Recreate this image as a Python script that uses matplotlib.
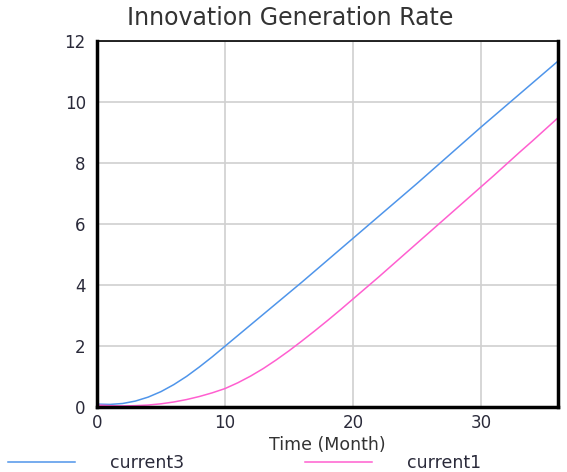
import numpy as np
import matplotlib
matplotlib.use("Agg")
import matplotlib.pyplot as plt

# monthly values
months = list(range(0, 37))
current3 = [0.09, 0.08, 0.11, 0.19, 0.32, 0.50, 0.73, 1.00, 1.31, 1.64,
            1.99, 2.34, 2.69, 3.04, 3.39, 3.74, 4.09, 4.45, 4.81, 5.17,
            5.53, 5.89, 6.25, 6.61, 6.97, 7.33, 7.70, 8.07, 8.44, 8.81,
            9.18, 9.54, 9.90, 10.26, 10.62, 10.98, 11.34]
current1 = [0.06, 0.04, 0.03, 0.04, 0.06, 0.10, 0.16, 0.24, 0.34, 0.46,
            0.60, 0.79, 1.01, 1.26, 1.54, 1.84, 2.16, 2.49, 2.83, 3.18,
            3.54, 3.90, 4.26, 4.63, 5.00, 5.37, 5.74, 6.11, 6.48, 6.85,
            7.22, 7.59, 7.97, 8.35, 8.72, 9.10, 9.48]
xticks = [0, 10, 20, 30]
yticks = [0, 2, 4, 6, 8, 10, 12]

fig = plt.figure(figsize=(5.67, 4.72), dpi=100)
ax = fig.add_axes([0.171, 0.138, 0.813, 0.775])

ax.plot(months, current3, color="#4f95ea", linewidth=1.1, label="current3")
ax.plot(months, current1, color="#ff5fd0", linewidth=1.1, label="current1")

ax.set_xlim(0, 36)
ax.set_ylim(0, 12)
ax.set_xticks(xticks)
ax.set_yticks(yticks)
ax.grid(True, color="#d0d0d0", linewidth=1.2)
ax.set_axisbelow(True)
ax.tick_params(length=0, labelsize=12, labelcolor="#2a2a3a")
ax.tick_params(axis="x", pad=5)
ax.tick_params(axis="y", pad=8)

for side in ["left", "bottom", "right"]:
    ax.spines[side].set_linewidth(2.5)
    ax.spines[side].set_color("black")
ax.spines["top"].set_linewidth(1.2)

fig.text(0.511, 0.962, "Innovation Generation Rate", fontsize=17,
         color="#333333", ha="center", va="center")
ax.set_xlabel("Time (Month)", fontsize=12.5, color="#333333", labelpad=3)

fig.legend(loc="lower left", bbox_to_anchor=(0.014, 0.0), ncol=2, frameon=False,
           fontsize=12.5, handlelength=3.85, handletextpad=2.0, columnspacing=7.0,
           borderpad=0, borderaxespad=0, labelcolor="#2a2a3a")

fig.savefig("out.png", dpi=100)
